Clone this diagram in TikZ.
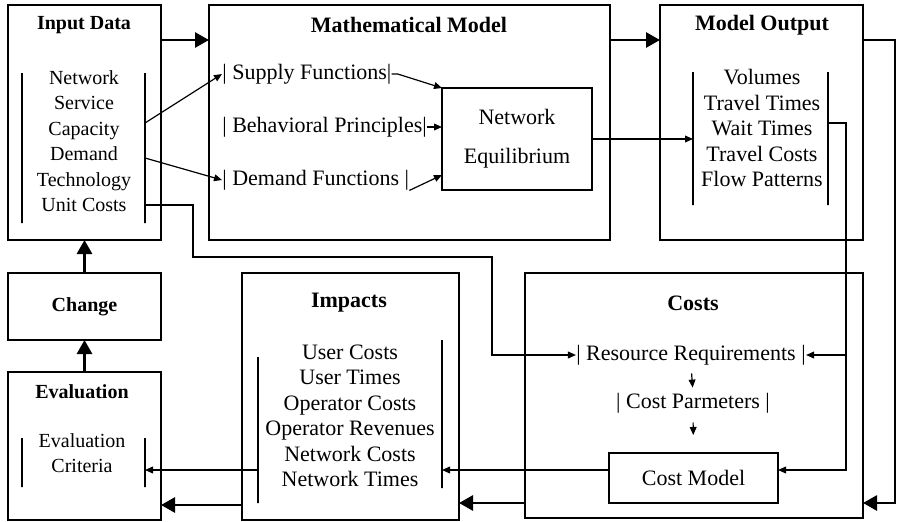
\documentclass[tikz,border=0pt]{standalone}
\usepackage{fontspec}
\setmainfont{Liberation Serif}
\usepackage{tikz}
\usetikzlibrary{arrows.meta}

\begin{document}
\begin{tikzpicture}[x=0.5pt, y=-0.5pt,
    every node/.style={font=\fontsize{11}{12.75}\selectfont},
    narrow/.style={font=\fontsize{10}{12.75}\selectfont},
    box/.style={draw, line width=0.8pt, inner sep=0pt, outer sep=0pt},
    title/.style={font=\fontsize{11}{12.75}\selectfont\bfseries},
    lefttitle/.style={font=\fontsize{10}{12.75}\selectfont\bfseries},
    list/.style={align=center, inner sep=1pt},
    item/.style={inner sep=0pt},
    bar/.style={draw, line width=0.7pt, inner sep=0pt, outer sep=0pt, minimum width=0pt, minimum height=#1},
    fat/.style={line width=1.4pt, -{Triangle[length=7pt,width=7.5pt]}},
    link/.style={line width=0.6pt, -{Triangle[length=4pt,width=3.4pt]}}]
  \useasboundingbox (0,0) rectangle (901,521);

  \node[box, minimum width=76.5pt, minimum height=117.5pt] (indata) at (84.5,122.5) {};
  \node[box, minimum width=200.5pt, minimum height=117.5pt] (mathmod) at (409.5,122.5) {};
  \node[box, minimum width=101.5pt, minimum height=117.5pt] (modout) at (761.5,122.5) {};
  \node[box, lefttitle, minimum width=76.5pt, minimum height=33.5pt] (change) at (84.5,306.5) {Change};
  \node[box, minimum width=76.5pt, minimum height=74pt] (evaluation) at (84.5,446) {};
  \node[box, minimum width=108.5pt, minimum height=123.5pt] (impacts) at (350.5,396.5) {};
  \node[box, minimum width=169pt, minimum height=122.5pt] (costs) at (694,395.5) {};
  \node[box, align=center, minimum width=75pt, minimum height=51pt] (neteq) at (517,139) {Network\\[6.75pt]Equilibrium};
  \node[box, minimum width=84.5pt, minimum height=25pt] (costmodel) at (693.5,478) {Cost Model};

  \node[lefttitle] (indatat) at (84,25) {Input Data};
  \node[title] (mathmodt) at (409,25) {Mathematical Model};
  \node[title] (modoutt) at (762,25) {Model Output};
  \node[lefttitle] (evaluationt) at (82,392) {Evaluation};
  \node[title] (impactst) at (349,303) {Impacts};
  \node[title] (costst) at (693,303) {Costs};

  \node[list, narrow] (inlist) at (84,141) {Network\\Service\\Capacity\\Demand\\Technology\\Unit Costs};
  \node[list] (molist) at (762,128) {Volumes\\Travel Times\\Wait Times\\Travel Costs\\Flow Patterns};
  \node[list] (implist) at (350,416) {User Costs\\User Times\\Operator Costs\\Operator Revenues\\Network Costs\\Network Times};
  \node[list, narrow] (evlist) at (82,453) {Evaluation\\Criteria};

  \node[item, anchor=west] (supply) at (222,74) {| Supply Functions|};
  \node[item, anchor=west] (behav) at (222,127) {| Behavioral Principles|};
  \node[item, anchor=west] (demand) at (222,180) {| Demand Functions |};
  \node[item] (resreq) at (691,355) {| Resource Requirements |};
  \node[item] (costpar) at (693,403) {| Cost Parmeters |};

  \node[bar=75pt] (inL) at (22,148) {};
  \node[bar=75pt] (inR) at (145,148) {};
  \node[bar=66.5pt] (moL) at (693,138.5) {};
  \node[bar=66.5pt] (moR) at (828,138.5) {};
  \node[bar=73pt] (impL) at (258,430) {};
  \node[bar=74pt] (impR) at (442,414) {};
  \node[bar=24.5pt] (evL) at (22,462.5) {};
  \node[bar=24.5pt] (evR) at (145,462.5) {};

  \coordinate (loop) at (895,503);
  \coordinate (ucA) at (193,257);
  \coordinate (ucB) at (492,355);
  \coordinate (waitA) at (846,123);
  \coordinate (waitB) at (846,470);

  \draw[fat] (indata.east |- 0,40) -- (mathmod.west |- 0,40);
  \draw[fat] (mathmod.east |- 0,40) -- (modout.west |- 0,40);
  \draw[fat] (modout.east |- 0,40) -| (loop) -- (costs.east |- loop);
  \draw[fat] (costs.west |- loop) -- (impacts.east |- loop);
  \draw[fat] (impacts.west |- 0,505) -- (evaluation.east |- 0,505);
  \draw[fat] (change.north) -- (indata.south);
  \draw[fat] (evaluation.north) -- (change.south);

  \draw[link] (inR |- 0,123) -- (supply.west);
  \draw[link] (inR |- 0,158) -- (demand.west);
  \draw[link] (supply.east) -- ++(6,0) -- (neteq.north west);
  \draw[link] (behav.east) -- (behav.east -| neteq.west);
  \draw[link] (demand.south east) -- (neteq.west |- 0,175);
  \draw[link] (neteq.east) -- (neteq.east -| moL);
  \draw[link] (inR |- 0,205) -| (ucA) -| (ucB) -- (resreq.west);
  \draw[link] (moR |- waitA) -- (waitA) -- (waitB) -- (costmodel.east |- waitB);
  \draw[link] (waitA |- resreq) -- (resreq.east);
  \draw[link, shorten <=4pt, shorten >=2.5pt] (resreq.south) -- (costpar.north);
  \draw[link, shorten <=4.5pt, shorten >=9pt] (costpar.south) -- (costmodel.north);
  \draw[link] (costmodel.west |- waitB) -- (impR |- waitB);
  \draw[link] (impL |- waitB) -- (evR |- waitB);
\end{tikzpicture}
\end{document}
